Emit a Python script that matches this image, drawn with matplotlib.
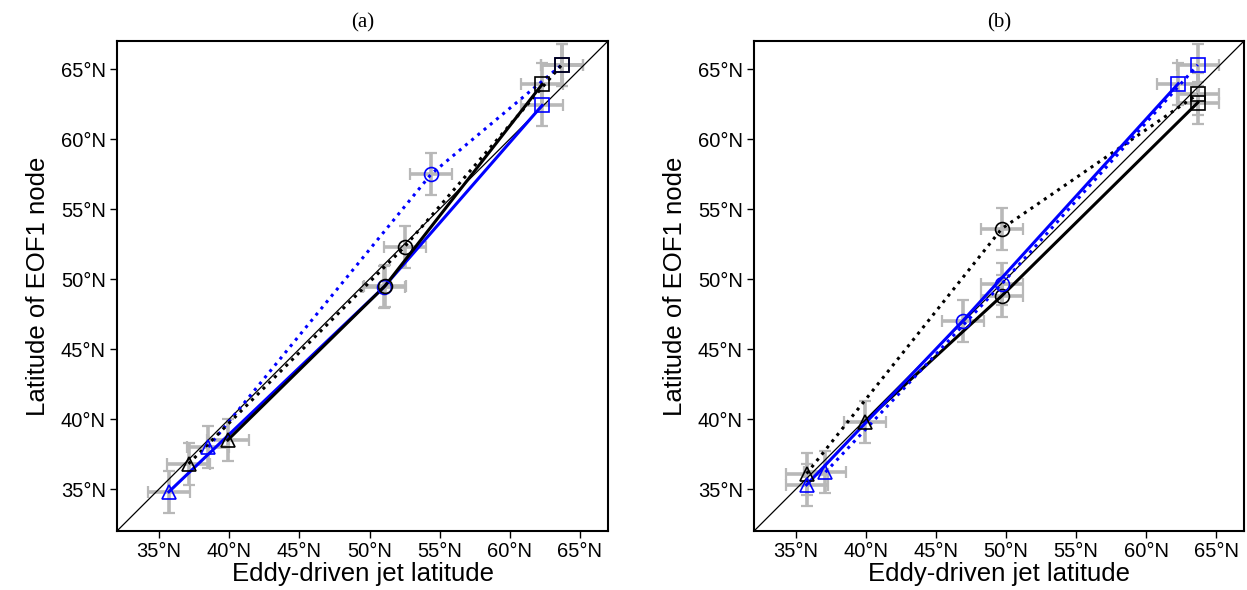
import matplotlib
matplotlib.use("Agg")
import matplotlib.pyplot as plt
import numpy as np

plt.rcParams['font.family'] = ['Liberation Sans', 'DejaVu Sans']

# marker order in every series: triangle, circle, square
markers = ['^', 'o', 's']
ticks = [35, 40, 45, 50, 55, 60, 65]
tick_labels = ['%d°N' % t for t in ticks]
lims = [32, 67]

# panel (a)
a_black_solid_x = [39.9, 51.1, 62.3]
a_black_solid_y = [38.5, 49.5, 63.9]
a_black_dot_x = [37.1, 52.5, 63.7]
a_black_dot_y = [36.8, 52.3, 65.3]
a_blue_solid_x = [35.7, 51.0, 62.3]
a_blue_solid_y = [34.8, 49.4, 62.4]
a_blue_dot_x = [38.5, 54.4, 63.7]
a_blue_dot_y = [38.0, 57.5, 65.3]

# panel (b)
b_black_solid_x = [39.9, 49.7, 63.7]
b_black_solid_y = [39.8, 48.8, 62.6]
b_black_dot_x = [35.75, 49.7, 63.7]
b_black_dot_y = [36.1, 53.6, 63.2]
b_blue_solid_x = [35.75, 46.9, 62.3]
b_blue_solid_y = [35.3, 47.0, 63.95]
b_blue_dot_x = [37.1, 49.7, 63.7]
b_blue_dot_y = [36.2, 49.65, 65.3]

# uncertainty (+/- deg) in x and y, same for each point of a series
xerr = [1.5, 1.5, 1.5]
yerr = [1.5, 1.5, 1.5]

panels = {
    '(a)': [(a_blue_solid_x, a_blue_solid_y, 'blue', '-'),
            (a_blue_dot_x, a_blue_dot_y, 'blue', ':'),
            (a_black_dot_x, a_black_dot_y, 'black', ':'),
            (a_black_solid_x, a_black_solid_y, 'black', '-')],
    '(b)': [(b_black_solid_x, b_black_solid_y, 'black', '-'),
            (b_black_dot_x, b_black_dot_y, 'black', ':'),
            (b_blue_dot_x, b_blue_dot_y, 'blue', ':'),
            (b_blue_solid_x, b_blue_solid_y, 'blue', '-')],
}

fig = plt.figure(figsize=(12.47, 5.9), dpi=100)
axes = [fig.add_axes([0.0938, 0.1, 0.3938, 0.8305]),
        fig.add_axes([0.6047, 0.1, 0.3929, 0.8305])]

for ax, (title, series) in zip(axes, panels.items()):
    # grey error crosses first
    for xs, ys, col, ls in series:
        ax.errorbar(xs, ys, xerr=xerr, yerr=yerr, fmt='none', ecolor='#b8b8b8',
                    elinewidth=2.6, capsize=4, capthick=1.6, zorder=1)
    ax.plot(lims, lims, color='k', lw=0.9, zorder=2)
    for xs, ys, col, ls in series:
        ax.plot(xs, ys, color=col, ls=ls, lw=2.2, zorder=3)
        for x, y, m in zip(xs, ys, markers):
            ax.plot(x, y, marker=m, ms=10, mfc='none', mec=col, mew=1.2,
                    ls='none', zorder=4)
    ax.set_xlim(lims)
    ax.set_ylim(lims)
    ax.set_xticks(ticks)
    ax.set_yticks(ticks)
    ax.set_xticklabels(tick_labels, fontsize=14.5)
    ax.set_yticklabels(tick_labels, fontsize=14.5)
    ax.tick_params(direction='out', length=5, width=1, pad=3)
    for s in ax.spines.values():
        s.set_linewidth(1.5)
    ax.set_xlabel('Eddy-driven jet latitude', fontsize=18.5, labelpad=1)
    ax.set_ylabel('Latitude of EOF1 node', fontsize=18.5, labelpad=8)
    ax.set_title(title, fontsize=15, family='Liberation Serif', pad=10)

fig.savefig('out.png', dpi=100)
